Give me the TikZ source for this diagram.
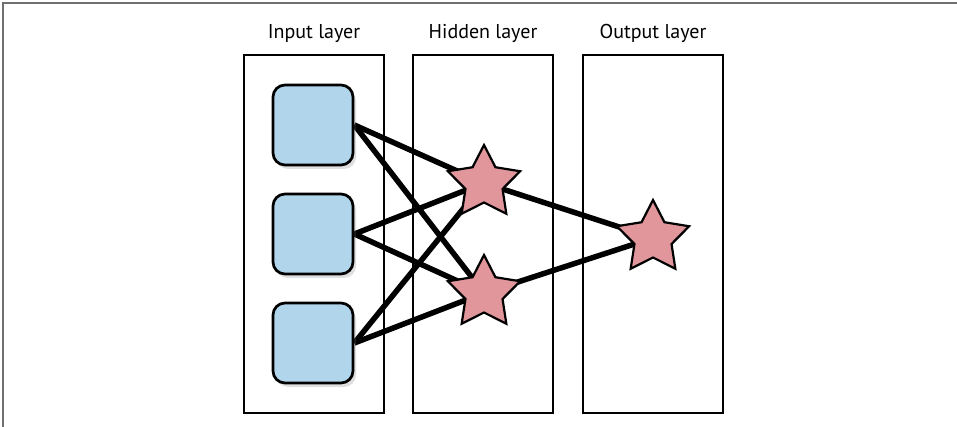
\documentclass[tikz,border=0pt]{standalone}
\usepackage{fontspec}
\setmainfont{PT Sans}
\usetikzlibrary{shapes.geometric,shadows,backgrounds}
\definecolor{unitblue}{HTML}{B1D5EA}
\definecolor{unitpink}{HTML}{E0969B}
\definecolor{edgegray}{HTML}{707070}

\begin{document}
\begin{tikzpicture}[x=1pt,y=-1pt,
  layerbox/.style={draw,line width=2pt,minimum width=140pt,minimum height=358pt,inner sep=0pt},
  layername/.style={anchor=base,font=\fontsize{20}{24}\selectfont},
  inunit/.style={draw,line width=2.7pt,fill=unitblue,rounded corners=12pt,minimum size=80pt,inner sep=0pt,
    drop shadow={shadow xshift=3pt,shadow yshift=-4pt,opacity=0.25}},
  starunit/.style={star,star points=5,star point ratio=1.95,draw,line width=2.2pt,fill=unitpink,minimum size=76pt,inner sep=0pt},
  wire/.style={line width=5.5pt}]
\useasboundingbox (0,0) rectangle (957,427);
\draw[edgegray,line width=1.5pt] (3,427)--(3,3)--(957,3);
% layers
\node[layerbox] (inlayer) at (314,234) {};
\node[layerbox] (hidlayer) at (483,234) {};
\node[layerbox] (outlayer) at (653,234) {};
\node[layername] (inname) at (314,39) {Input layer};
\node[layername] (hidname) at (483,39) {Hidden layer};
\node[layername] (outname) at (653,39) {Output layer};
% units
\foreach \i/\y in {1/125,2/234,3/343}{\node[inunit] (in\i) at (313,\y) {};}
\node[starunit] (hid1) at (484,183) {};
\node[starunit] (hid2) at (484,293) {};
\node[starunit] (out) at (653,238) {};
% wires
\begin{scope}[on background layer]
\foreach \i in {1,2,3}{
  \draw[wire] (in\i.east)--(hid1.center);
  \draw[wire] (in\i.east)--(hid2.center);}
\draw[wire] (hid1.center)--(out.center);
\draw[wire] (hid2.center)--(out.center);
\end{scope}
\end{tikzpicture}
\end{document}
